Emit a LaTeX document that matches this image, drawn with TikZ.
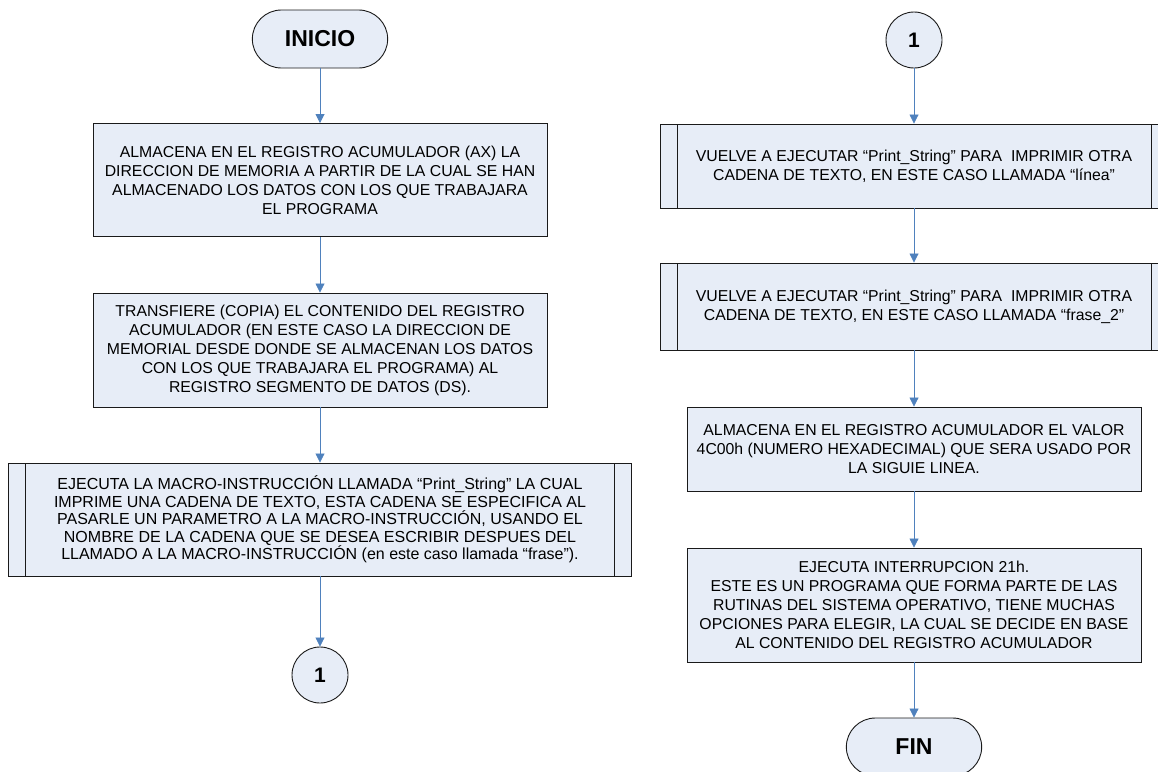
\documentclass[tikz,border=0pt]{standalone}
\usepackage{fontspec}
\setmainfont{Liberation Sans}
\usetikzlibrary{shapes.misc,arrows.meta}
\definecolor{relleno}{HTML}{E7EDF7}
\definecolor{borde}{HTML}{1A1A1A}
\definecolor{flecha}{HTML}{4F81BD}

\begin{document}
\begin{tikzpicture}[x=1pt,y=-1pt,
  caja/.style={draw=borde, line width=0.9pt, fill=relleno, inner sep=0pt, align=center, font=\fontsize{15.8}{19}\selectfont},
  subp/.style={caja, path picture={
    \draw[borde, line width=0.9pt] ([xshift=17pt]path picture bounding box.north west) -- ([xshift=17pt]path picture bounding box.south west);
    \draw[borde, line width=0.9pt] ([xshift=-17pt]path picture bounding box.north east) -- ([xshift=-17pt]path picture bounding box.south east);}},
  term/.style={draw=borde, line width=0.9pt, fill=relleno, rounded rectangle, minimum width=142pt, minimum height=58pt, font=\fontsize{23}{26}\selectfont\bfseries},
  conec/.style={draw=borde, line width=0.9pt, fill=relleno, circle, minimum size=56pt, inner sep=0pt, font=\fontsize{21}{24}\selectfont\bfseries},
  ar/.style={-{Triangle[length=9pt,width=9pt]}, flecha, line width=0.8pt}]
  \useasboundingbox (0,0) rectangle (1158,771);
  % columna izquierda
  \node[term] (ini) at (320,39) {INICIO};
  \node[caja, minimum width=454pt, minimum height=113pt] (alm) at (320,180) {ALMACENA EN EL REGISTRO ACUMULADOR (AX) LA\\DIRECCION DE MEMORIA A PARTIR DE LA CUAL SE HAN\\ALMACENADO LOS DATOS CON LOS QUE TRABAJARA\\EL PROGRAMA};
  \node[caja, minimum width=454pt, minimum height=114pt] (tra) at (320,350) {TRANSFIERE (COPIA) EL CONTENIDO DEL REGISTRO\\ACUMULADOR (EN ESTE CASO LA DIRECCION DE\\MEMORIAL DESDE DONDE SE ALMACENAN LOS DATOS\\CON LOS QUE TRABAJARA EL PROGRAMA) AL\\REGISTRO SEGMENTO DE DATOS (DS).};
  \node[subp, minimum width=623pt, minimum height=113pt, font=\fontsize{16}{17.5}\selectfont] (eje) at (320,519.5) {EJECUTA LA MACRO-INSTRUCCIÓN LLAMADA “Print\_String” LA CUAL\\IMPRIME UNA CADENA DE TEXTO, ESTA CADENA SE ESPECIFICA AL\\PASARLE UN PARAMETRO A LA MACRO-INSTRUCCIÓN, USANDO EL\\NOMBRE DE LA CADENA QUE SE DESEA ESCRIBIR DESPUES DEL\\LLAMADO A LA MACRO-INSTRUCCIÓN (en este caso llamada “frase”).};
  \node[conec] (c1) at (320,675) {1};
  % columna derecha
  \node[conec] (c2) at (914,40) {1};
  \node[subp, minimum width=508pt, minimum height=84pt] (vu1) at (914,166) {VUELVE A EJECUTAR “Print\_String” PARA\ \ IMPRIMIR OTRA\\CADENA DE TEXTO, EN ESTE CASO LLAMADA “línea”};
  \node[subp, minimum width=508pt, minimum height=87pt] (vu2) at (914,306.5) {VUELVE A EJECUTAR “Print\_String” PARA\ \ IMPRIMIR OTRA\\CADENA DE TEXTO, EN ESTE CASO LLAMADA “frase\_2”};
  \node[caja, minimum width=454pt, minimum height=84pt] (hex) at (914,449) {ALMACENA EN EL REGISTRO ACUMULADOR EL VALOR\\4C00h (NUMERO HEXADECIMAL) QUE SERA USADO POR\\LA SIGUIE LINEA.};
  \node[caja, minimum width=454pt, minimum height=114pt] (int) at (914,605) {EJECUTA INTERRUPCION 21h.\\ESTE ES UN PROGRAMA QUE FORMA PARTE DE LAS\\RUTINAS DEL SISTEMA OPERATIVO, TIENE MUCHAS\\OPCIONES PARA ELEGIR, LA CUAL SE DECIDE EN BASE\\AL CONTENIDO DEL REGISTRO ACUMULADOR};
  \node[term] (fin) at (914,747) {FIN};
  % flechas
  \foreach \a/\b in {ini/alm,alm/tra,tra/eje,eje/c1,c2/vu1,vu1/vu2,vu2/hex,hex/int,int/fin}
    \draw[ar] (\a.south) -- (\b.north);
\end{tikzpicture}
\end{document}
